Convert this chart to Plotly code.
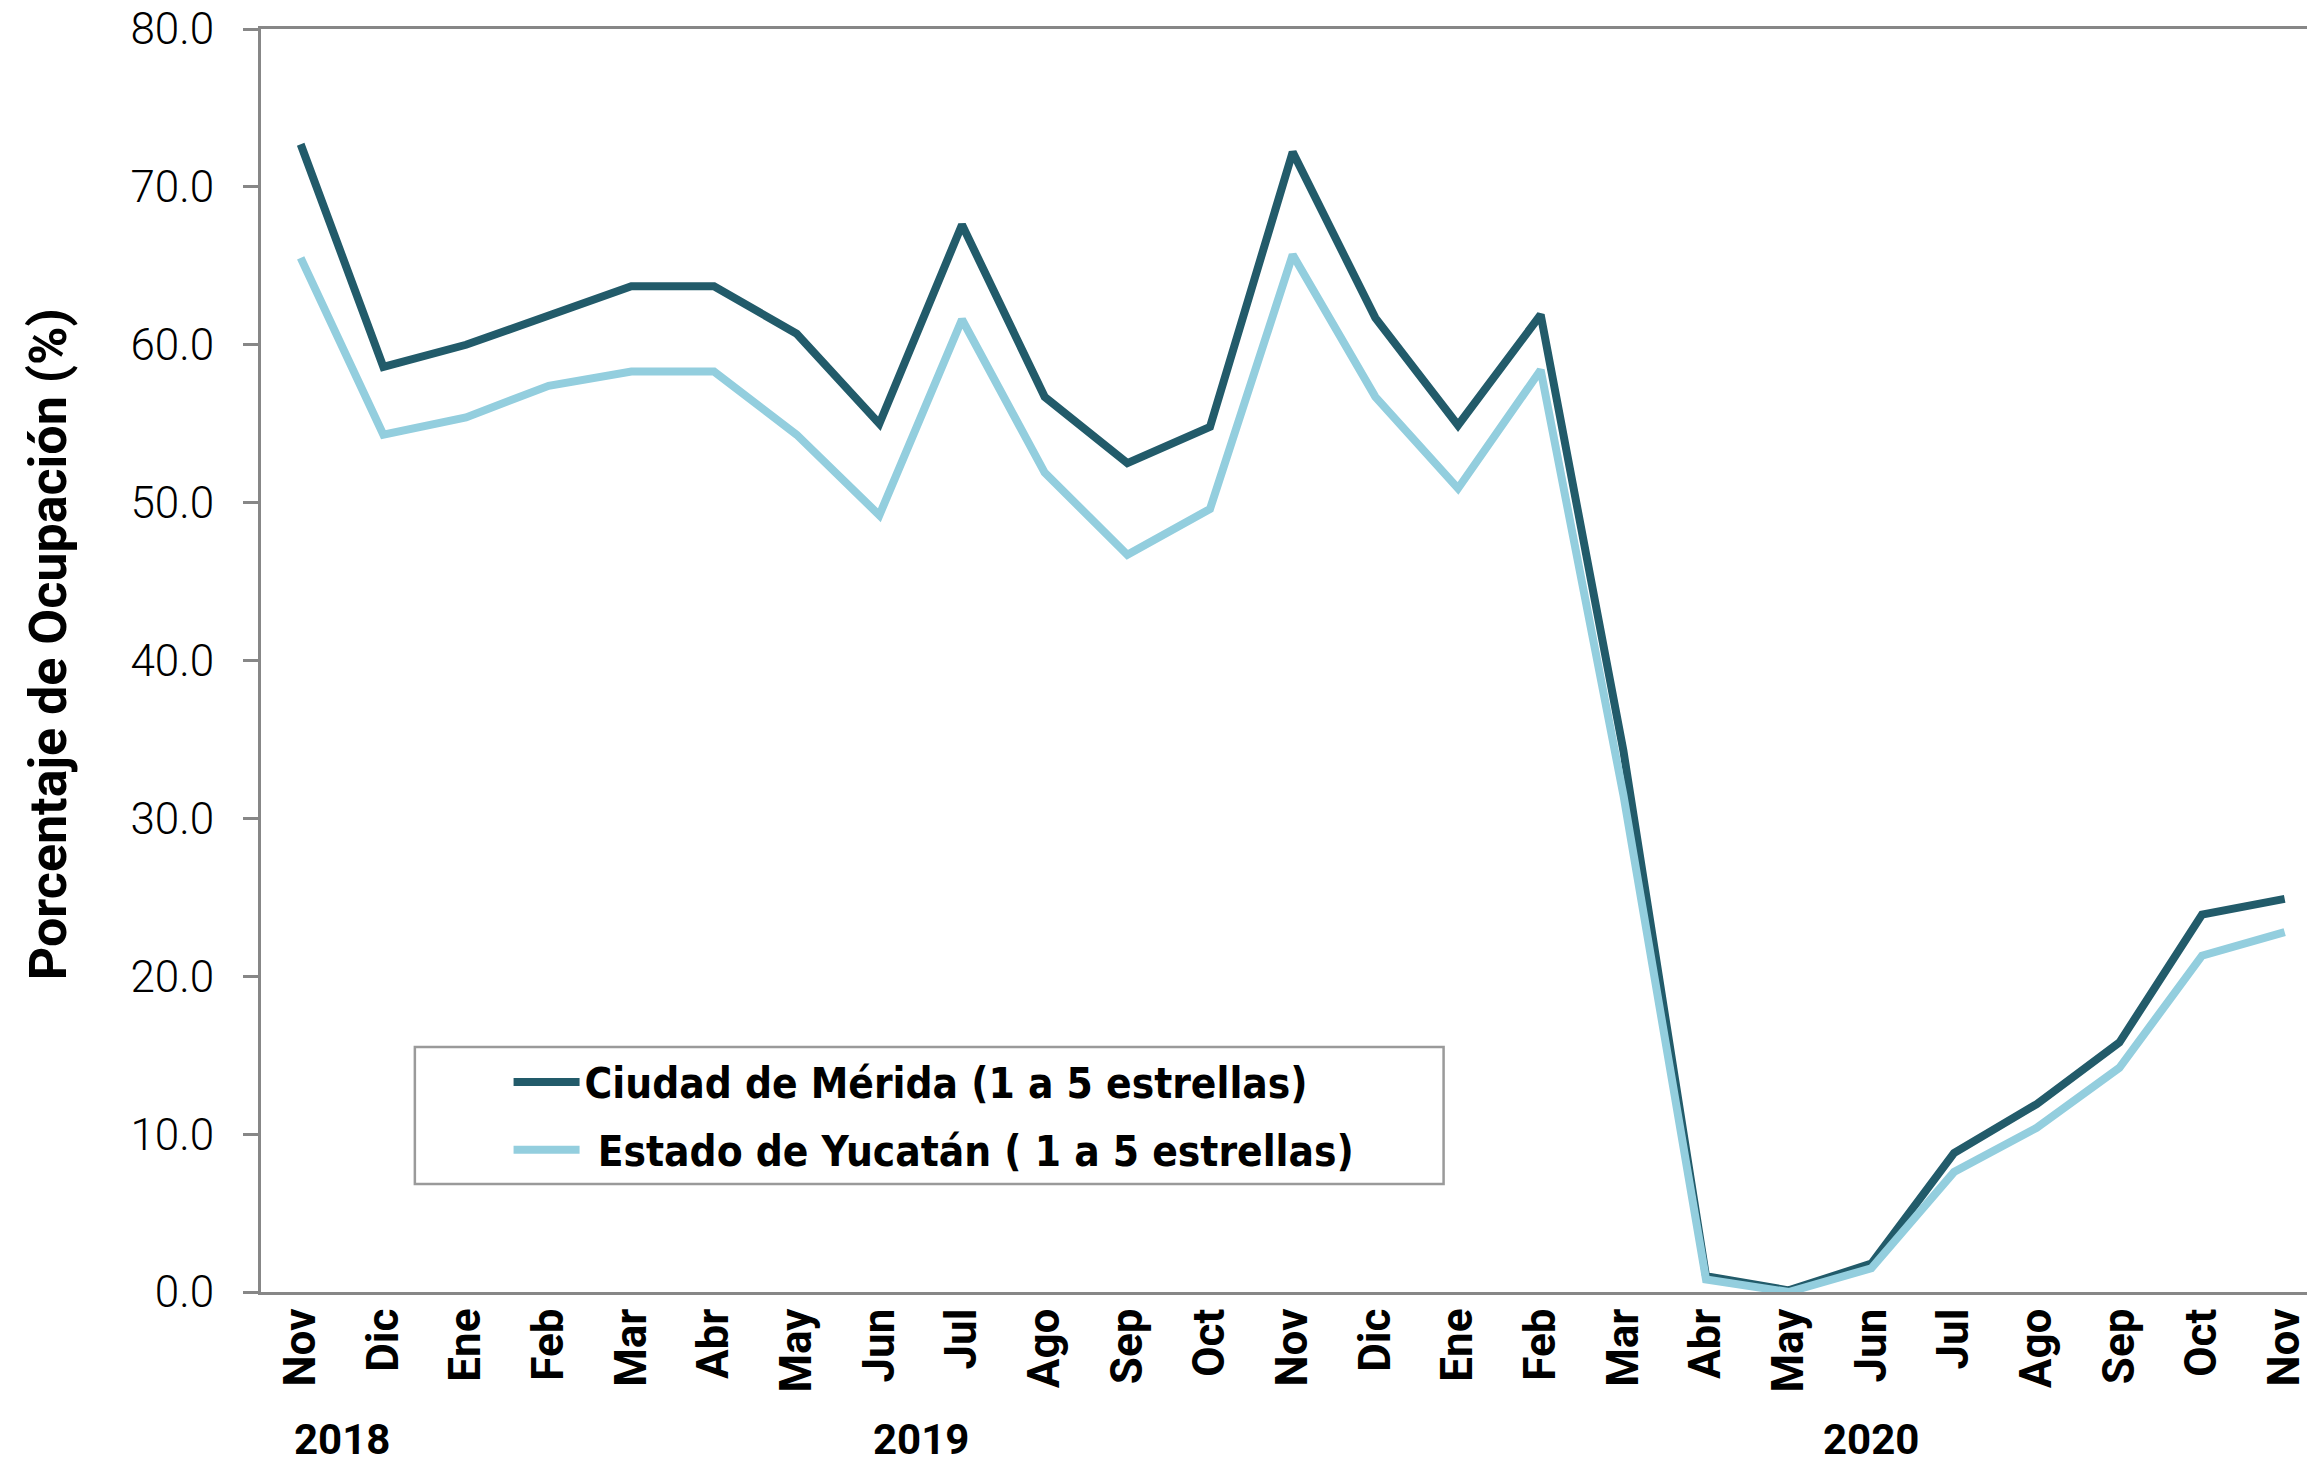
import plotly.graph_objects as go

meses = ["Nov", "Dic", "Ene", "Feb", "Mar", "Abr", "May", "Jun", "Jul", "Ago", "Sep", "Oct",
         "Nov", "Dic", "Ene", "Feb", "Mar", "Abr", "May", "Jun", "Jul", "Ago", "Sep", "Oct", "Nov"]
anios = ["2018", "2019", "2020"]
meses_por_anio = [2, 12, 11]

merida = [72.7, 58.6, 60.0, 61.8, 63.7, 63.7, 60.7, 55.0, 67.6, 56.7, 52.5, 54.8,
          72.2, 61.7, 54.9, 61.9, 34.3, 1.0, 0.1, 1.8, 8.8, 11.9, 15.8, 23.9, 24.9]
yucatan = [65.5, 54.3, 55.4, 57.4, 58.3, 58.3, 54.3, 49.2, 61.6, 51.9, 46.7, 49.6,
           65.7, 56.7, 50.9, 58.4, 31.5, 0.8, 0.0, 1.5, 7.6, 10.4, 14.2, 21.3, 22.8]

x = list(range(len(meses)))
gris = "#878787"

fig = go.Figure()
fig.add_trace(go.Scatter(x=x, y=merida, mode="lines", name="Ciudad de Mérida (1 a 5 estrellas)",
                         legendgroup="a", line=dict(color="#225B6A", width=8)))
fig.add_trace(go.Scatter(x=x, y=yucatan, mode="lines", name=" Estado de Yucatán ( 1 a 5 estrellas)",
                         legendgroup="b", line=dict(color="#93CEDE", width=8)))

# etiquetas de año centradas bajo sus meses
inicio = 0
for anio, n in zip(anios, meses_por_anio):
    fig.add_annotation(x=inicio + (n - 1) / 2, y=-0.117, xref="x", yref="paper", text=anio,
                       showarrow=False, yanchor="middle",
                       font=dict(family="Roboto", size=42, color="black", weight="bold"))
    inicio += n

# título del eje y, un poco por encima del centro como en el original
fig.add_annotation(x=-0.104, y=0.513, xref="paper", yref="paper", text="Porcentaje de Ocupación (%)",
                   textangle=-90, showarrow=False, xanchor="center", yanchor="middle",
                   font=dict(family="Roboto", size=52, color="black", weight="bold"))

# marco de la leyenda
fig.add_shape(type="rect", xref="paper", yref="paper", x0=0.0752, x1=0.578, y0=0.0855, y1=0.194,
              line=dict(color="#9a9a9a", width=2.5), fillcolor="white", layer="below")

fig.update_layout(
    width=2310, height=1464,
    margin=dict(l=261, r=0, t=29, b=172),
    plot_bgcolor="white", paper_bgcolor="white",
    showlegend=True,
    legend=dict(x=0.121, y=0.193, xanchor="left", yanchor="top", bgcolor="rgba(0,0,0,0)",
                borderwidth=0, tracegroupgap=10, itemwidth=66,
                font=dict(family="DejaVu Sans Condensed", size=42,
                          color="black", weight="bold")),
    xaxis=dict(range=[-0.48, 24.27], tickmode="array", tickvals=x, ticktext=meses,
               tickangle=-90, showgrid=False, zeroline=False,
               showline=True, linecolor=gris, linewidth=3, mirror=True, ticks="",
               ticklabelstandoff=-4, ticklabeloverflow="allow",
               tickfont=dict(family="Roboto", size=44, color="black", weight="bold")),
    yaxis=dict(range=[0, 80], dtick=10, tickformat=".1f", showgrid=False, zeroline=False,
               showline=True, linecolor=gris, linewidth=3, ticks="outside", ticklen=15,
               tickwidth=3, tickcolor=gris, ticklabelstandoff=20, ticklabeloverflow="allow",
               tickfont=dict(family="Roboto", size=44, color="black", weight=300)),
)

# sin el margen por defecto del body para que la figura ocupe la ventana exacta
fig.write_html("out.html", config={"displayModeBar": False},
               post_script="document.body.style.margin='0';")
